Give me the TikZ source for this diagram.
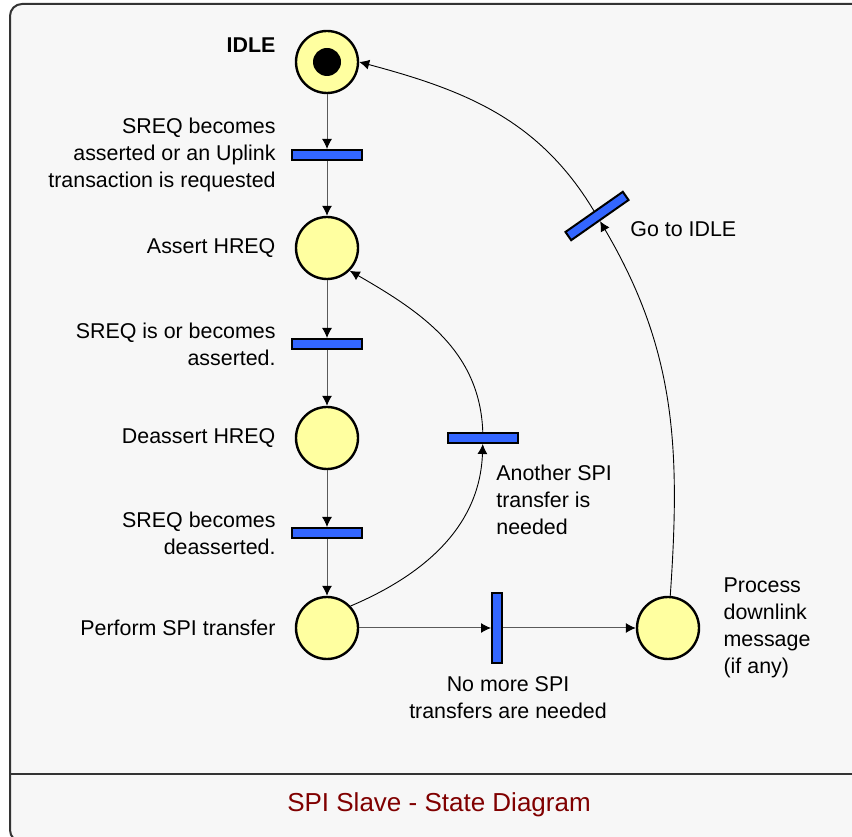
\documentclass[tikz,border=0pt]{standalone}
\usepackage{fontspec}
\setmainfont{Liberation Sans}
\usetikzlibrary{positioning,arrows.meta}
\definecolor{placefill}{RGB}{255,255,160}
\definecolor{barblue}{RGB}{51,102,255}
\definecolor{framebg}{RGB}{247,247,247}
\definecolor{titlered}{RGB}{128,0,0}
\definecolor{flowgray}{RGB}{90,90,90}

\begin{document}
\begin{tikzpicture}[%
        x=0.5pt, y=0.5pt,
        every node/.style={font=\fontsize{10.7}{13.5}\selectfont},
        place/.style={circle, draw, line width=1.2pt, fill=placefill, minimum size=31pt, inner sep=0pt},
        trans/.style={rectangle, draw, line width=1pt, fill=barblue, minimum width=35pt, minimum height=5pt, inner sep=0pt},
        lbl/.style={align=right, inner sep=0pt},
        flow/.style={->, draw=flowgray, line width=0.5pt},
        arc/.style={->, draw=black, line width=0.45pt},
        >={Latex[length=5pt,width=5pt,color=black]}
      ]
      \useasboundingbox (0,0) rectangle (852,836);
      % frame
      \draw [line width=1pt, draw=black!80, fill=framebg, rounded corners=6pt] (10,-6) rectangle (880,832);
      \draw [line width=1pt, draw=black!80] (10,62) -- (880,62);
      \node [text=titlered, font=\fontsize{13}{15}\selectfont] (title) at (439,31) {SPI Slave - State Diagram};

      % states
      \node [place] (idle) at (327,774) {};
      \node [circle, fill=black, minimum size=14pt, inner sep=0pt] (token) at (idle) {};
      \node [place] (assert) at (327,588) {};
      \node [place] (deassert) at (327,398) {};
      \node [place] (perform) at (327,208) {};
      \node [place] (process) at (668,208) {};

      % transitions
      \node [trans] (t1) at (327,681) {};
      \node [trans] (t2) at (327,492) {};
      \node [trans] (t3) at (327,303) {};
      \node [trans] (t4) at (483,398) {};
      \node [trans, rotate=90] (t5) at (497,208) {};
      \node [trans, rotate=35] (t6) at (597,620) {};

      % labels
      \node [lbl, font=\fontsize{10.7}{13.5}\selectfont\bfseries, left=9.5pt of idle, yshift=8.5pt] (idletext) {IDLE};
      \node [lbl, left=7.5pt of t1] (t1text) {SREQ becomes\\asserted or an Uplink\\transaction is requested};
      \node [lbl, left=9.5pt of assert] (asserttext) {Assert HREQ};
      \node [lbl, left=7.5pt of t2] (t2text) {SREQ is or becomes\\asserted.};
      \node [lbl, left=9.5pt of deassert] (deasserttext) {Deassert HREQ};
      \node [lbl, left=7.5pt of t3] (t3text) {SREQ becomes\\deasserted.};
      \node [lbl, left=9.5pt of perform] (performtext) {Perform SPI transfer};
      \node [lbl, align=left, right=11.5pt of process] (processtext) {Process\\downlink\\message\\(if any)};
      \node [lbl, align=left, anchor=west] (t4text) at (496,336) {Another SPI\\transfer is\\needed};
      \node [lbl, align=center] (t5text) at (508,138) {No more SPI\\transfers are needed};
      \node [lbl, align=left, anchor=west] (t6text) at (630,607) {Go to IDLE};

      % connectors
      \draw [flow] (idle) -- (t1);
      \draw [flow] (t1) -- (assert);
      \draw [flow] (assert) -- (t2);
      \draw [flow] (t2) -- (deassert);
      \draw [flow] (deassert) -- (t3);
      \draw [flow] (t3) -- (perform);
      \draw [flow] (perform) -- (t5);
      \draw [flow] (t5) -- (process);
      \draw [arc] (perform.43) to[out=23, in=-92] (t4);
      \draw [arc] (t4) to[out=92, in=-30] (assert.-45);
      \draw [arc] (process) to[out=86, in=-61] (t6);
      \draw [arc] (t6) to[out=119, in=-15] (idle.east);
    \end{tikzpicture}
\end{document}
